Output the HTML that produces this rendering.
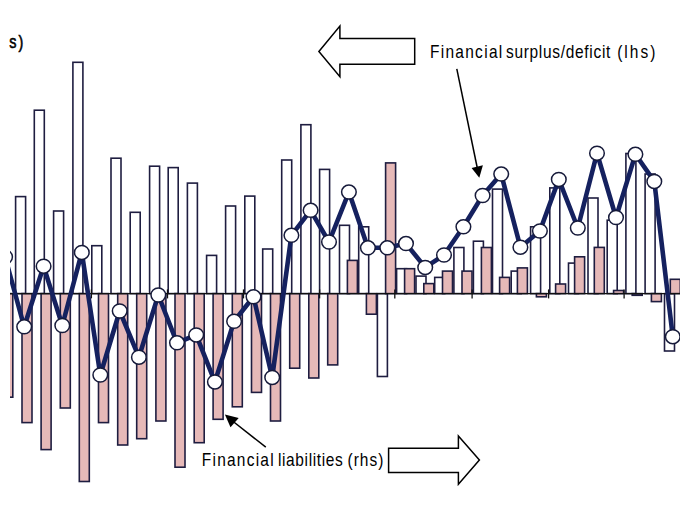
<!DOCTYPE html>
<html><head><meta charset="utf-8"><title>Financial surplus/deficit and liabilities</title>
<style>html,body{margin:0;padding:0;background:#fff;width:690px;height:523px;overflow:hidden}svg{display:block}</style>
</head><body>
<svg width="690" height="523" viewBox="0 0 690 523">
<defs><clipPath id="pa"><rect x="10.0" y="0" width="670.0" height="523"/></clipPath></defs>
<rect width="690" height="523" fill="#fff"/>
<g clip-path="url(#pa)">
<rect x="15.60" y="196.60" width="10.0" height="97.00" fill="#fff" stroke="#1e1d40" stroke-width="1.6"/>
<rect x="34.30" y="110.20" width="10.0" height="183.40" fill="#fff" stroke="#1e1d40" stroke-width="1.6"/>
<rect x="53.60" y="211.00" width="10.0" height="82.60" fill="#fff" stroke="#1e1d40" stroke-width="1.6"/>
<rect x="72.90" y="62.30" width="10.0" height="231.30" fill="#fff" stroke="#1e1d40" stroke-width="1.6"/>
<rect x="91.80" y="245.70" width="10.0" height="47.90" fill="#fff" stroke="#1e1d40" stroke-width="1.6"/>
<rect x="111.00" y="158.20" width="10.0" height="135.40" fill="#fff" stroke="#1e1d40" stroke-width="1.6"/>
<rect x="130.20" y="212.30" width="10.0" height="81.30" fill="#fff" stroke="#1e1d40" stroke-width="1.6"/>
<rect x="149.60" y="166.20" width="10.0" height="127.40" fill="#fff" stroke="#1e1d40" stroke-width="1.6"/>
<rect x="168.20" y="167.60" width="10.0" height="126.00" fill="#fff" stroke="#1e1d40" stroke-width="1.6"/>
<rect x="187.40" y="183.10" width="10.0" height="110.50" fill="#fff" stroke="#1e1d40" stroke-width="1.6"/>
<rect x="206.60" y="255.40" width="10.0" height="38.20" fill="#fff" stroke="#1e1d40" stroke-width="1.6"/>
<rect x="225.60" y="206.00" width="10.0" height="87.60" fill="#fff" stroke="#1e1d40" stroke-width="1.6"/>
<rect x="244.80" y="196.10" width="10.0" height="97.50" fill="#fff" stroke="#1e1d40" stroke-width="1.6"/>
<rect x="262.70" y="249.00" width="10.0" height="44.60" fill="#fff" stroke="#1e1d40" stroke-width="1.6"/>
<rect x="281.70" y="160.00" width="10.0" height="133.60" fill="#fff" stroke="#1e1d40" stroke-width="1.6"/>
<rect x="300.90" y="124.70" width="10.0" height="168.90" fill="#fff" stroke="#1e1d40" stroke-width="1.6"/>
<rect x="319.60" y="169.40" width="10.0" height="124.20" fill="#fff" stroke="#1e1d40" stroke-width="1.6"/>
<rect x="339.50" y="225.30" width="10.0" height="68.30" fill="#fff" stroke="#1e1d40" stroke-width="1.6"/>
<rect x="358.70" y="226.80" width="10.0" height="66.80" fill="#fff" stroke="#1e1d40" stroke-width="1.6"/>
<rect x="377.40" y="293.60" width="10.0" height="82.90" fill="#fff" stroke="#1e1d40" stroke-width="1.6"/>
<rect x="396.60" y="268.70" width="10.0" height="24.90" fill="#fff" stroke="#1e1d40" stroke-width="1.6"/>
<rect x="416.00" y="276.10" width="10.0" height="17.50" fill="#fff" stroke="#1e1d40" stroke-width="1.6"/>
<rect x="434.70" y="277.40" width="10.0" height="16.20" fill="#fff" stroke="#1e1d40" stroke-width="1.6"/>
<rect x="453.90" y="247.50" width="10.0" height="46.10" fill="#fff" stroke="#1e1d40" stroke-width="1.6"/>
<rect x="473.40" y="241.20" width="10.0" height="52.40" fill="#fff" stroke="#1e1d40" stroke-width="1.6"/>
<rect x="492.50" y="189.10" width="10.0" height="104.50" fill="#fff" stroke="#1e1d40" stroke-width="1.6"/>
<rect x="511.20" y="271.10" width="10.0" height="22.50" fill="#fff" stroke="#1e1d40" stroke-width="1.6"/>
<rect x="530.60" y="226.80" width="10.0" height="66.80" fill="#fff" stroke="#1e1d40" stroke-width="1.6"/>
<rect x="549.80" y="187.90" width="10.0" height="105.70" fill="#fff" stroke="#1e1d40" stroke-width="1.6"/>
<rect x="568.50" y="263.10" width="10.0" height="30.50" fill="#fff" stroke="#1e1d40" stroke-width="1.6"/>
<rect x="588.00" y="198.00" width="10.0" height="95.60" fill="#fff" stroke="#1e1d40" stroke-width="1.6"/>
<rect x="607.20" y="220.20" width="10.0" height="73.40" fill="#fff" stroke="#1e1d40" stroke-width="1.6"/>
<rect x="625.90" y="153.50" width="10.0" height="140.10" fill="#fff" stroke="#1e1d40" stroke-width="1.6"/>
<rect x="645.10" y="174.00" width="10.0" height="119.60" fill="#fff" stroke="#1e1d40" stroke-width="1.6"/>
<rect x="664.50" y="293.60" width="10.0" height="57.40" fill="#fff" stroke="#1e1d40" stroke-width="1.6"/>
<rect x="2.80" y="293.60" width="10.0" height="103.60" fill="#e6b9b8" stroke="#1e1d40" stroke-width="1.6"/>
<rect x="22.00" y="293.60" width="10.0" height="129.00" fill="#e6b9b8" stroke="#1e1d40" stroke-width="1.6"/>
<rect x="41.10" y="293.60" width="10.0" height="156.00" fill="#e6b9b8" stroke="#1e1d40" stroke-width="1.6"/>
<rect x="60.30" y="293.60" width="10.0" height="114.40" fill="#e6b9b8" stroke="#1e1d40" stroke-width="1.6"/>
<rect x="79.30" y="293.60" width="10.0" height="187.90" fill="#e6b9b8" stroke="#1e1d40" stroke-width="1.6"/>
<rect x="98.50" y="293.60" width="10.0" height="129.00" fill="#e6b9b8" stroke="#1e1d40" stroke-width="1.6"/>
<rect x="117.70" y="293.60" width="10.0" height="151.40" fill="#e6b9b8" stroke="#1e1d40" stroke-width="1.6"/>
<rect x="136.70" y="293.60" width="10.0" height="145.10" fill="#e6b9b8" stroke="#1e1d40" stroke-width="1.6"/>
<rect x="155.90" y="293.60" width="10.0" height="127.40" fill="#e6b9b8" stroke="#1e1d40" stroke-width="1.6"/>
<rect x="175.00" y="293.60" width="10.0" height="173.60" fill="#e6b9b8" stroke="#1e1d40" stroke-width="1.6"/>
<rect x="194.20" y="293.60" width="10.0" height="149.10" fill="#e6b9b8" stroke="#1e1d40" stroke-width="1.6"/>
<rect x="213.10" y="293.60" width="10.0" height="125.70" fill="#e6b9b8" stroke="#1e1d40" stroke-width="1.6"/>
<rect x="232.30" y="293.60" width="10.0" height="113.20" fill="#e6b9b8" stroke="#1e1d40" stroke-width="1.6"/>
<rect x="251.50" y="293.60" width="10.0" height="98.80" fill="#e6b9b8" stroke="#1e1d40" stroke-width="1.6"/>
<rect x="270.50" y="293.60" width="10.0" height="127.40" fill="#e6b9b8" stroke="#1e1d40" stroke-width="1.6"/>
<rect x="289.70" y="293.60" width="10.0" height="74.60" fill="#e6b9b8" stroke="#1e1d40" stroke-width="1.6"/>
<rect x="308.80" y="293.60" width="10.0" height="84.40" fill="#e6b9b8" stroke="#1e1d40" stroke-width="1.6"/>
<rect x="327.70" y="293.60" width="10.0" height="71.30" fill="#e6b9b8" stroke="#1e1d40" stroke-width="1.6"/>
<rect x="347.40" y="260.40" width="10.0" height="33.20" fill="#e6b9b8" stroke="#1e1d40" stroke-width="1.6"/>
<rect x="366.40" y="293.60" width="10.0" height="20.60" fill="#e6b9b8" stroke="#1e1d40" stroke-width="1.6"/>
<rect x="385.60" y="162.90" width="10.0" height="130.70" fill="#e6b9b8" stroke="#1e1d40" stroke-width="1.6"/>
<rect x="404.60" y="268.70" width="10.0" height="24.90" fill="#e6b9b8" stroke="#1e1d40" stroke-width="1.6"/>
<rect x="423.80" y="283.60" width="10.0" height="10.00" fill="#e6b9b8" stroke="#1e1d40" stroke-width="1.6"/>
<rect x="442.50" y="271.10" width="10.0" height="22.50" fill="#e6b9b8" stroke="#1e1d40" stroke-width="1.6"/>
<rect x="462.00" y="271.10" width="10.0" height="22.50" fill="#e6b9b8" stroke="#1e1d40" stroke-width="1.6"/>
<rect x="481.40" y="247.50" width="10.0" height="46.10" fill="#e6b9b8" stroke="#1e1d40" stroke-width="1.6"/>
<rect x="499.60" y="277.40" width="10.0" height="16.20" fill="#e6b9b8" stroke="#1e1d40" stroke-width="1.6"/>
<rect x="517.40" y="267.90" width="10.0" height="25.70" fill="#e6b9b8" stroke="#1e1d40" stroke-width="1.6"/>
<rect x="536.40" y="293.60" width="10.0" height="3.20" fill="#e6b9b8" stroke="#1e1d40" stroke-width="1.6"/>
<rect x="555.60" y="284.00" width="10.0" height="9.60" fill="#e6b9b8" stroke="#1e1d40" stroke-width="1.6"/>
<rect x="574.60" y="256.80" width="10.0" height="36.80" fill="#e6b9b8" stroke="#1e1d40" stroke-width="1.6"/>
<rect x="594.30" y="247.40" width="10.0" height="46.20" fill="#e6b9b8" stroke="#1e1d40" stroke-width="1.6"/>
<rect x="613.60" y="290.50" width="10.0" height="3.10" fill="#e6b9b8" stroke="#1e1d40" stroke-width="1.6"/>
<rect x="632.20" y="293.60" width="10.0" height="1.70" fill="#e6b9b8" stroke="#1e1d40" stroke-width="1.6"/>
<rect x="651.40" y="293.60" width="10.0" height="8.00" fill="#e6b9b8" stroke="#1e1d40" stroke-width="1.6"/>
<rect x="670.30" y="279.30" width="10.0" height="14.30" fill="#e6b9b8" stroke="#1e1d40" stroke-width="1.6"/>
<line x1="10.0" y1="293.6" x2="680.0" y2="293.6" stroke="#111" stroke-width="1.4"/>
<g stroke="#111" stroke-width="1.3"><line x1="15.3" y1="289.4" x2="15.3" y2="298.4"/><line x1="91.4" y1="289.4" x2="91.4" y2="298.4"/><line x1="167.5" y1="289.4" x2="167.5" y2="298.4"/><line x1="243.5" y1="289.4" x2="243.5" y2="298.4"/><line x1="319.6" y1="289.4" x2="319.6" y2="298.4"/><line x1="394.8" y1="289.4" x2="394.8" y2="298.4"/><line x1="472.1" y1="289.4" x2="472.1" y2="298.4"/><line x1="548.6" y1="289.4" x2="548.6" y2="298.4"/><line x1="624.1" y1="289.4" x2="624.1" y2="298.4"/></g>
<polyline points="5.1,257 24.2,326.8 43.6,266.2 62.3,325.5 81.8,252.4 100.3,375 119.7,311 138.9,357.2 158.3,295 177,342.8 196.2,334.9 214.9,381.9 234.1,321.3 253.5,296.8 272.2,377.4 291.4,235.3 310.6,210.3 329,242 348.9,192.1 367.9,247.8 387.3,247.8 406,243.6 425.2,267.4 444,255 463.4,226.8 482.6,195.5 501.2,174.1 520.4,247.2 539.9,231 558.8,179.4 577.8,228 597,153.2 616,217.5 635.4,154.3 654.3,181.4 672.8,336.7" fill="none" stroke="#15215f" stroke-width="4.6" stroke-linejoin="round"/>
<g fill="#fff" stroke="#161a3a" stroke-width="1.5">
<ellipse cx="5.1" cy="257" rx="7.3" ry="7.0"/>
<ellipse cx="24.2" cy="326.8" rx="7.3" ry="7.0"/>
<ellipse cx="43.6" cy="266.2" rx="7.3" ry="7.0"/>
<ellipse cx="62.3" cy="325.5" rx="7.3" ry="7.0"/>
<ellipse cx="81.8" cy="252.4" rx="7.3" ry="7.0"/>
<ellipse cx="100.3" cy="375" rx="7.3" ry="7.0"/>
<ellipse cx="119.7" cy="311" rx="7.3" ry="7.0"/>
<ellipse cx="138.9" cy="357.2" rx="7.3" ry="7.0"/>
<ellipse cx="158.3" cy="295" rx="7.3" ry="7.0"/>
<ellipse cx="177" cy="342.8" rx="7.3" ry="7.0"/>
<ellipse cx="196.2" cy="334.9" rx="7.3" ry="7.0"/>
<ellipse cx="214.9" cy="381.9" rx="7.3" ry="7.0"/>
<ellipse cx="234.1" cy="321.3" rx="7.3" ry="7.0"/>
<ellipse cx="253.5" cy="296.8" rx="7.3" ry="7.0"/>
<ellipse cx="272.2" cy="377.4" rx="7.3" ry="7.0"/>
<ellipse cx="291.4" cy="235.3" rx="7.3" ry="7.0"/>
<ellipse cx="310.6" cy="210.3" rx="7.3" ry="7.0"/>
<ellipse cx="329" cy="242" rx="7.3" ry="7.0"/>
<ellipse cx="348.9" cy="192.1" rx="7.3" ry="7.0"/>
<ellipse cx="367.9" cy="247.8" rx="7.3" ry="7.0"/>
<ellipse cx="387.3" cy="247.8" rx="7.3" ry="7.0"/>
<ellipse cx="406" cy="243.6" rx="7.3" ry="7.0"/>
<ellipse cx="425.2" cy="267.4" rx="7.3" ry="7.0"/>
<ellipse cx="444" cy="255" rx="7.3" ry="7.0"/>
<ellipse cx="463.4" cy="226.8" rx="7.3" ry="7.0"/>
<ellipse cx="482.6" cy="195.5" rx="7.3" ry="7.0"/>
<ellipse cx="501.2" cy="174.1" rx="7.3" ry="7.0"/>
<ellipse cx="520.4" cy="247.2" rx="7.3" ry="7.0"/>
<ellipse cx="539.9" cy="231" rx="7.3" ry="7.0"/>
<ellipse cx="558.8" cy="179.4" rx="7.3" ry="7.0"/>
<ellipse cx="577.8" cy="228" rx="7.3" ry="7.0"/>
<ellipse cx="597" cy="153.2" rx="7.3" ry="7.0"/>
<ellipse cx="616" cy="217.5" rx="7.3" ry="7.0"/>
<ellipse cx="635.4" cy="154.3" rx="7.3" ry="7.0"/>
<ellipse cx="654.3" cy="181.4" rx="7.3" ry="7.0"/>
<ellipse cx="672.8" cy="336.7" rx="7.3" ry="7.0"/>
</g>
</g>
<g fill="none" stroke="#000" stroke-width="1.5" stroke-linejoin="miter">
<path d="M318.9,51.6 L339.9,26 L339.9,38.6 L414.7,38.6 L414.7,64.3 L339.9,64.3 L339.9,76.8 Z" fill="#fff"/>
<path d="M479.4,459.9 L458.4,436 L458.4,448.2 L388.6,448.2 L388.6,472.4 L458.4,472.4 L458.4,484.3 Z" fill="#fff"/>
<line x1="456.8" y1="68.9" x2="477.5" y2="169"/>
<line x1="265.8" y1="447.2" x2="230" y2="419"/>
</g>
<path d="M479.3,177.8 L471.6,168 L482.9,165.3 Z" fill="#000"/>
<path d="M224.9,414.6 L238.7,417.9 L230.5,427.2 Z" fill="#000"/>
<g font-family="'Liberation Sans', Arial, sans-serif" font-size="17.6" fill="#000">
<text transform="translate(429.9,57.8) scale(0.88,1)" x="0" y="0" textLength="82.2" lengthAdjust="spacing">Financial</text>
<text transform="translate(506.0,57.8) scale(0.88,1)" x="0" y="0" textLength="118.6" lengthAdjust="spacing">surplus/deficit</text>
<text transform="translate(617.2,57.8) scale(0.88,1)" x="0" y="0" textLength="43.4" lengthAdjust="spacing">(lhs)</text>
<text transform="translate(201.8,465.9) scale(0.88,1)" x="0" y="0" textLength="81.6" lengthAdjust="spacing">Financial</text>
<text transform="translate(277.9,465.9) scale(0.88,1)" x="0" y="0" textLength="73.8" lengthAdjust="spacing">liabilities</text>
<text transform="translate(347.5,465.9) scale(0.88,1)" x="0" y="0" textLength="40.8" lengthAdjust="spacing">(rhs)</text>
<text transform="translate(9.2,47.9) scale(0.8,1)" x="0" y="0" font-size="18" letter-spacing="2.6" stroke="#000" stroke-width="0.6">s)</text>
</g>
</svg>
</body></html>
